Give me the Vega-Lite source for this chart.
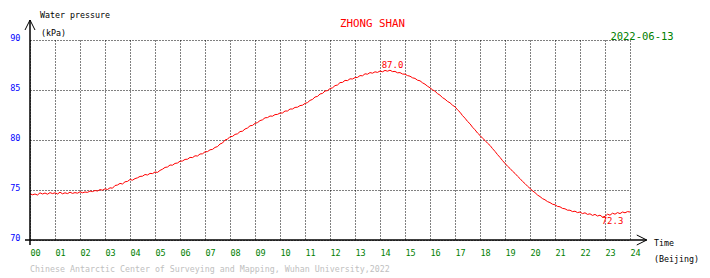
{
  "$schema": "https://vega.github.io/schema/vega-lite/v6.json",
  "width": 600,
  "height": 200,
  "autosize": {"type": "none"},
  "padding": {"left": 30, "top": 40, "right": 80, "bottom": 38},
  "background": "white",
  "config": {
    "view": {"stroke": null},
    "font": "DejaVu Sans Mono",
    "axis": {
      "grid": true, "gridColor": "#000000", "gridDash": [1, 2], "gridOpacity": 1, "gridWidth": 1,
      "domain": false, "ticks": false, "labelFont": "DejaVu Sans Mono", "labelFontSize": 8.5, "titleOpacity": 0
    },
    "axisX": {
      "tickCount": 24,
      "labelExpr": "datum.value < 10 ? '0' + datum.value : '' + datum.value",
      "labelColor": "#008000", "labelAlign": "left", "labelBaseline": "top", "labelPadding": 8,
      "labelFlush": false, "labelOverlap": false
    },
    "axisY": {
      "tickCount": 4,
      "labelColor": "#0000ff", "labelBaseline": "alphabetic", "labelPadding": 10
    }
  },
  "layer": [
    {
      "data": {
        "values": [
          {"t":0.0,"v":74.62},{"t":0.1,"v":74.52},{"t":0.2,"v":74.60},{"t":0.3,"v":74.50},{"t":0.4,"v":74.72},{"t":0.5,"v":74.60},{"t":0.6,"v":74.70},{"t":0.7,"v":74.58},{"t":0.8,"v":74.74},{"t":0.9,"v":74.64},
          {"t":1.0,"v":74.72},{"t":1.1,"v":74.60},{"t":1.2,"v":74.78},{"t":1.3,"v":74.62},{"t":1.4,"v":74.72},{"t":1.5,"v":74.64},{"t":1.6,"v":74.78},{"t":1.7,"v":74.66},{"t":1.8,"v":74.74},{"t":1.9,"v":74.68},
          {"t":2.0,"v":74.82},{"t":2.1,"v":74.72},{"t":2.2,"v":74.80},{"t":2.3,"v":74.76},{"t":2.4,"v":74.90},{"t":2.5,"v":74.84},{"t":2.6,"v":74.95},{"t":2.7,"v":74.90},{"t":2.8,"v":75.04},{"t":2.9,"v":74.98},
          {"t":3.0,"v":75.12},{"t":3.1,"v":75.05},{"t":3.2,"v":75.22},{"t":3.3,"v":75.18},{"t":3.4,"v":75.45},{"t":3.5,"v":75.50},{"t":3.6,"v":75.66},{"t":3.7,"v":75.60},{"t":3.8,"v":75.82},{"t":3.9,"v":75.86},
          {"t":4.0,"v":76.05},{"t":4.1,"v":75.98},{"t":4.2,"v":76.14},{"t":4.3,"v":76.22},{"t":4.4,"v":76.36},{"t":4.5,"v":76.38},{"t":4.6,"v":76.55},{"t":4.7,"v":76.50},{"t":4.8,"v":76.66},{"t":4.9,"v":76.64},
          {"t":5.0,"v":76.80},{"t":5.1,"v":76.76},{"t":5.2,"v":76.96},{"t":5.3,"v":77.08},{"t":5.4,"v":77.26},{"t":5.5,"v":77.30},{"t":5.6,"v":77.50},{"t":5.7,"v":77.48},{"t":5.8,"v":77.66},{"t":5.9,"v":77.70},
          {"t":6.0,"v":77.88},{"t":6.1,"v":77.90},{"t":6.2,"v":78.06},{"t":6.3,"v":78.08},{"t":6.4,"v":78.26},{"t":6.5,"v":78.24},{"t":6.6,"v":78.42},{"t":6.7,"v":78.40},{"t":6.8,"v":78.60},{"t":6.9,"v":78.62},
          {"t":7.0,"v":78.82},{"t":7.1,"v":78.84},{"t":7.2,"v":79.02},{"t":7.3,"v":79.06},{"t":7.4,"v":79.26},{"t":7.5,"v":79.34},{"t":7.6,"v":79.60},{"t":7.7,"v":79.70},{"t":7.8,"v":80.00},{"t":7.9,"v":80.08},
          {"t":8.0,"v":80.34},{"t":8.1,"v":80.36},{"t":8.2,"v":80.56},{"t":8.3,"v":80.62},{"t":8.4,"v":80.84},{"t":8.5,"v":80.88},{"t":8.6,"v":81.10},{"t":8.7,"v":81.20},{"t":8.8,"v":81.42},{"t":8.9,"v":81.46},
          {"t":9.0,"v":81.66},{"t":9.1,"v":81.74},{"t":9.2,"v":81.94},{"t":9.3,"v":82.02},{"t":9.4,"v":82.22},{"t":9.5,"v":82.24},{"t":9.6,"v":82.40},{"t":9.7,"v":82.38},{"t":9.8,"v":82.54},{"t":9.9,"v":82.56},
          {"t":10.0,"v":82.70},{"t":10.1,"v":82.70},{"t":10.2,"v":82.90},{"t":10.3,"v":82.90},{"t":10.4,"v":83.10},{"t":10.5,"v":83.10},{"t":10.6,"v":83.26},{"t":10.7,"v":83.28},{"t":10.8,"v":83.44},{"t":10.9,"v":83.48},
          {"t":11.0,"v":83.66},{"t":11.1,"v":83.74},{"t":11.2,"v":83.96},{"t":11.3,"v":84.06},{"t":11.4,"v":84.30},{"t":11.5,"v":84.36},{"t":11.6,"v":84.60},{"t":11.7,"v":84.66},{"t":11.8,"v":84.90},{"t":11.9,"v":84.94},
          {"t":12.0,"v":85.14},{"t":12.1,"v":85.22},{"t":12.2,"v":85.44},{"t":12.3,"v":85.50},{"t":12.4,"v":85.74},{"t":12.5,"v":85.76},{"t":12.6,"v":85.96},{"t":12.7,"v":85.94},{"t":12.8,"v":86.12},{"t":12.9,"v":86.10},
          {"t":13.0,"v":86.24},{"t":13.1,"v":86.26},{"t":13.2,"v":86.44},{"t":13.3,"v":86.42},{"t":13.4,"v":86.62},{"t":13.5,"v":86.58},{"t":13.6,"v":86.74},{"t":13.7,"v":86.68},{"t":13.8,"v":86.82},{"t":13.9,"v":86.76},
          {"t":14.0,"v":86.90},{"t":14.1,"v":86.82},{"t":14.2,"v":86.96},{"t":14.3,"v":86.88},{"t":14.4,"v":86.98},{"t":14.5,"v":86.84},{"t":14.6,"v":86.86},{"t":14.7,"v":86.72},{"t":14.8,"v":86.74},{"t":14.9,"v":86.60},
          {"t":15.0,"v":86.58},{"t":15.1,"v":86.44},{"t":15.2,"v":86.38},{"t":15.3,"v":86.22},{"t":15.4,"v":86.16},{"t":15.5,"v":85.98},{"t":15.6,"v":85.92},{"t":15.7,"v":85.72},{"t":15.8,"v":85.58},{"t":15.9,"v":85.38},
          {"t":16.0,"v":85.22},{"t":16.1,"v":85.02},{"t":16.2,"v":84.88},{"t":16.3,"v":84.64},{"t":16.4,"v":84.48},{"t":16.5,"v":84.24},{"t":16.6,"v":84.08},{"t":16.7,"v":83.86},{"t":16.8,"v":83.72},{"t":16.9,"v":83.48},
          {"t":17.0,"v":83.32},{"t":17.1,"v":83.02},{"t":17.2,"v":82.78},{"t":17.3,"v":82.44},{"t":17.4,"v":82.18},{"t":17.5,"v":81.86},{"t":17.6,"v":81.62},{"t":17.7,"v":81.28},{"t":17.8,"v":81.02},{"t":17.9,"v":80.70},
          {"t":18.0,"v":80.46},{"t":18.1,"v":80.18},{"t":18.2,"v":79.96},{"t":18.3,"v":79.68},{"t":18.4,"v":79.46},{"t":18.5,"v":79.14},{"t":18.6,"v":78.86},{"t":18.7,"v":78.54},{"t":18.8,"v":78.26},{"t":18.9,"v":77.94},
          {"t":19.0,"v":77.66},{"t":19.1,"v":77.38},{"t":19.2,"v":77.16},{"t":19.3,"v":76.88},{"t":19.4,"v":76.66},{"t":19.5,"v":76.38},{"t":19.6,"v":76.14},{"t":19.7,"v":75.86},{"t":19.8,"v":75.64},{"t":19.9,"v":75.38},
          {"t":20.0,"v":75.16},{"t":20.1,"v":74.92},{"t":20.2,"v":74.74},{"t":20.3,"v":74.50},{"t":20.4,"v":74.34},{"t":20.5,"v":74.14},{"t":20.6,"v":74.02},{"t":20.7,"v":73.84},{"t":20.8,"v":73.74},{"t":20.9,"v":73.58},
          {"t":21.0,"v":73.52},{"t":21.1,"v":73.36},{"t":21.2,"v":73.32},{"t":21.3,"v":73.16},{"t":21.4,"v":73.12},{"t":21.5,"v":72.98},{"t":21.6,"v":72.98},{"t":21.7,"v":72.84},{"t":21.8,"v":72.88},{"t":21.9,"v":72.74},
          {"t":22.0,"v":72.80},{"t":22.1,"v":72.64},{"t":22.2,"v":72.72},{"t":22.3,"v":72.56},{"t":22.4,"v":72.62},{"t":22.5,"v":72.46},{"t":22.6,"v":72.56},{"t":22.7,"v":72.40},{"t":22.8,"v":72.48},{"t":22.9,"v":72.30},
          {"t":23.0,"v":72.36},{"t":23.1,"v":72.58},{"t":23.2,"v":72.48},{"t":23.3,"v":72.68},{"t":23.4,"v":72.58},{"t":23.5,"v":72.74},{"t":23.6,"v":72.64},{"t":23.7,"v":72.80},{"t":23.8,"v":72.72},{"t":23.9,"v":72.84},
          {"t":24.0,"v":72.80}
        ]
      },
      "mark": {"type": "line", "color": "#ff0000", "strokeWidth": 1},
      "encoding": {
        "x": {"field": "t", "type": "quantitative", "title": null, "scale": {"domain": [0, 24], "nice": false, "zero": false}},
        "y": {"field": "v", "type": "quantitative", "title": null, "scale": {"domain": [70, 90], "nice": false, "zero": false}}
      }
    },
    {
      "data": {"values": [{}]},
      "mark": {"type": "rule", "color": "#000000", "strokeWidth": 1.5},
      "encoding": {"x": {"datum": 0, "type": "quantitative"}, "y": {"datum": 69.5, "type": "quantitative"}, "y2": {"datum": 92}}
    },
    {
      "data": {"values": [{}]},
      "mark": {"type": "rule", "color": "#000000", "strokeWidth": 1.5},
      "encoding": {"y": {"datum": 70, "type": "quantitative"}, "x": {"datum": -0.2, "type": "quantitative"}, "x2": {"datum": 24.67}}
    },
    {
      "data": {"values": [{}]},
      "mark": {"type": "point", "shape": "M -1 2 L 0 0 L 1 2", "size": 100, "filled": false, "stroke": "#000000", "strokeWidth": 1, "opacity": 1},
      "encoding": {"x": {"datum": 0, "type": "quantitative"}, "y": {"datum": 92, "type": "quantitative"}}
    },
    {
      "data": {"values": [{}]},
      "mark": {"type": "point", "shape": "M -2 -1 L 0 0 L -2 1", "size": 100, "filled": false, "stroke": "#000000", "strokeWidth": 1, "opacity": 1},
      "encoding": {"x": {"datum": 24.67, "type": "quantitative"}, "y": {"datum": 70, "type": "quantitative"}}
    },
    {
      "data": {"values": [{}]},
      "mark": {"type": "text", "text": "87.0", "color": "#ff0000", "fontSize": 9, "font": "DejaVu Sans Mono", "baseline": "middle", "align": "center"},
      "encoding": {"x": {"datum": 14.5, "type": "quantitative"}, "y": {"datum": 87.5, "type": "quantitative"}}
    },
    {
      "data": {"values": [{}]},
      "mark": {"type": "text", "text": "72.3", "color": "#ff0000", "fontSize": 9, "font": "DejaVu Sans Mono", "baseline": "middle", "align": "center"},
      "encoding": {"x": {"datum": 23.3, "type": "quantitative"}, "y": {"datum": 71.9, "type": "quantitative"}}
    },
    {
      "data": {"values": [{}]},
      "mark": {"type": "text", "text": "ZHONG SHAN", "color": "#ff0000", "fontSize": 10.8, "font": "DejaVu Sans Mono", "baseline": "middle", "align": "center"},
      "encoding": {"x": {"datum": 13.7, "type": "quantitative"}, "y": {"datum": 91.6, "type": "quantitative"}}
    },
    {
      "data": {"values": [{}]},
      "mark": {"type": "text", "text": "2022-06-13", "color": "#008000", "fontSize": 10.5, "font": "DejaVu Sans Mono", "baseline": "middle", "align": "center"},
      "encoding": {"x": {"datum": 24.48, "type": "quantitative"}, "y": {"datum": 90.3, "type": "quantitative"}}
    },
    {
      "data": {"values": [{}]},
      "mark": {"type": "text", "text": "Water pressure", "color": "#000000", "fontSize": 8.3, "font": "DejaVu Sans Mono", "baseline": "middle", "align": "left"},
      "encoding": {"x": {"datum": 0.4, "type": "quantitative"}, "y": {"datum": 92.4, "type": "quantitative"}}
    },
    {
      "data": {"values": [{}]},
      "mark": {"type": "text", "text": "(kPa)", "color": "#000000", "fontSize": 8.3, "font": "DejaVu Sans Mono", "baseline": "middle", "align": "left"},
      "encoding": {"x": {"datum": 0.44, "type": "quantitative"}, "y": {"datum": 90.6, "type": "quantitative"}}
    },
    {
      "data": {"values": [{}]},
      "mark": {"type": "text", "text": "Time", "color": "#000000", "fontSize": 8.3, "font": "DejaVu Sans Mono", "baseline": "middle", "align": "left"},
      "encoding": {"x": {"datum": 24.96, "type": "quantitative"}, "y": {"datum": 69.6, "type": "quantitative"}}
    },
    {
      "data": {"values": [{}]},
      "mark": {"type": "text", "text": "(Beijing)", "color": "#000000", "fontSize": 8.3, "font": "DejaVu Sans Mono", "baseline": "middle", "align": "left"},
      "encoding": {"x": {"datum": 24.96, "type": "quantitative"}, "y": {"datum": 68.0, "type": "quantitative"}}
    },
    {
      "data": {"values": [{}]},
      "mark": {"type": "text", "text": "Chinese Antarctic Center of Surveying and Mapping, Wuhan University,2022", "color": "#c0c0c0", "fontSize": 8.3, "font": "DejaVu Sans Mono", "baseline": "middle", "align": "left"},
      "encoding": {"x": {"datum": 0, "type": "quantitative"}, "y": {"datum": 67.0, "type": "quantitative"}}
    }
  ]
}
